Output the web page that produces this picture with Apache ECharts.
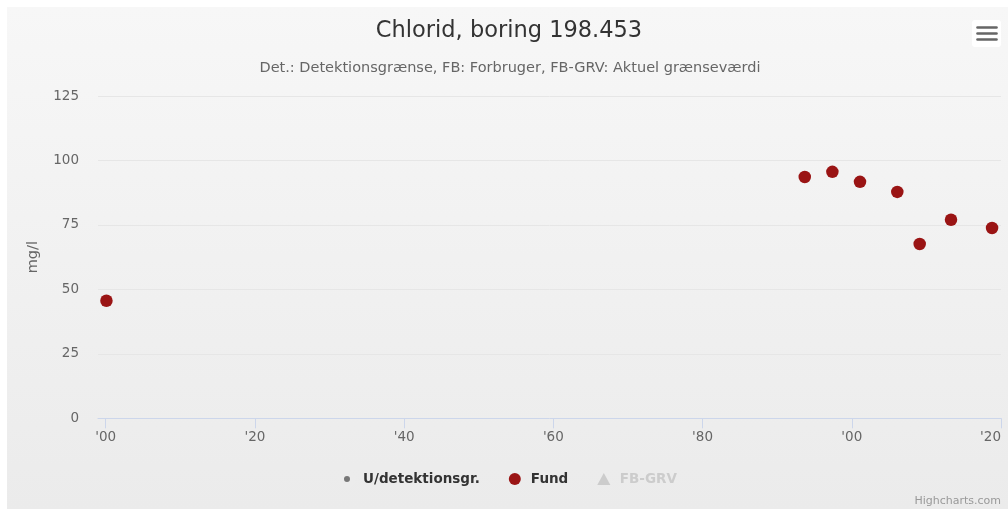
<!DOCTYPE html>
<html>
<head>
<meta charset="utf-8">
<script src="https://cdn.jsdelivr.net/npm/echarts@6/dist/echarts.min.js"></script>
<style>
  html, body { margin: 0; padding: 0; background: #fff; }
  #chart {
    width: 1008px;
    height: 509px;
    background: linear-gradient(#f7f7f7, #ebebeb) no-repeat 7px 7px / 1001px 502px, #fff;
  }
</style>
</head>
<body>
<div id="chart"></div>
<script>
const titleText = 'Chlorid, boring 198.453'
const subtitleText = 'Det.: Detektionsgrænse, FB: Forbruger, FB-GRV: Aktuel grænseværdi'
const yAxisName = 'mg/l'
const seriesNames = ['U/detektionsgr.', 'Fund', 'FB-GRV']
const xTicks = [1900, 1920, 1940, 1960, 1980, 2000, 2020]

// sampling dates as decimal years
const fundYears = [1900.1, 1993.7, 1997.4, 2001.1, 2006.1, 2009.1, 2013.3, 2018.8]
const fundValues = [45.6, 93.6, 95.6, 91.7, 87.8, 67.6, 77.0, 73.8]
// no points below detection limit, limit value series hidden
const detectionYears = []
const detectionValues = []
const limitYears = []
const limitValues = []

const font = 'DejaVu Sans'
const pairs = (xs, ys) => xs.map((x, i) => [x, ys[i]])

const chart = echarts.init(document.getElementById('chart'))

const option = {
  animation: false,
  title: [
    {
      text: titleText,
      left: 509,
      top: 20,
      padding: 0,
      textAlign: 'center',
      textStyle: { fontFamily: font, fontSize: 22.5, fontWeight: 'normal', color: '#333333' }
    },
    {
      text: subtitleText,
      left: 510,
      top: 61,
      padding: 0,
      textAlign: 'center',
      textStyle: { fontFamily: font, fontSize: 14.5, fontWeight: 'normal', color: '#666666' }
    }
  ],
  grid: {
    left: 98,
    right: 7,
    top: 96,
    bottom: 90.7,
    outerBoundsMode: 'none'
  },
  legend: {
    bottom: 16,
    left: 333,
    itemWidth: 22,
    itemHeight: 12,
    itemGap: 29,
    inactiveColor: '#cccccc',
    textStyle: { fontFamily: font, fontSize: 13.5, fontWeight: 'bold', color: '#333333' },
    selected: { 'FB-GRV': false },
    data: [
      {
        name: seriesNames[0],
        icon: 'circle',
        itemStyle: { color: '#777777', borderColor: '#ececec', borderWidth: 6 }
      },
      { name: seriesNames[1], icon: 'circle' },
      { name: seriesNames[2], icon: 'path://M6,0 L12,11 L0,11 Z' }
    ]
  },
  xAxis: {
    type: 'value',
    min: 1898.97,
    max: 2020,
    axisLine: { show: true, lineStyle: { color: '#ccd6eb', width: 1 } },
    axisTick: {
      show: true,
      length: 10,
      customValues: xTicks,
      lineStyle: { color: '#ccd6eb' }
    },
    axisLabel: {
      customValues: xTicks,
      alignMaxLabel: 'right',
      margin: 12,
      color: '#666666',
      fontFamily: font,
      fontSize: 13.5,
      formatter: (v) => "'" + String(v % 100).padStart(2, '0')
    },
    splitLine: { show: false }
  },
  yAxis: {
    type: 'value',
    min: 0,
    max: 125,
    interval: 25,
    name: yAxisName,
    nameLocation: 'middle',
    nameGap: 57,
    nameTextStyle: { fontFamily: font, fontSize: 14.5, color: '#666666' },
    axisLine: { show: false },
    axisTick: { show: false },
    axisLabel: { margin: 19, color: '#666666', fontFamily: font, fontSize: 13.5 },
    splitLine: { lineStyle: { color: '#e6e6e6', width: 1 } }
  },
  series: [
    {
      name: seriesNames[0],
      type: 'scatter',
      symbol: 'circle',
      symbolSize: 6,
      itemStyle: { color: '#777777', opacity: 1 },
      data: pairs(detectionYears, detectionValues)
    },
    {
      name: seriesNames[1],
      type: 'scatter',
      symbol: 'circle',
      symbolSize: 12.5,
      itemStyle: { color: '#9a1414', opacity: 1 },
      data: pairs(fundYears, fundValues)
    },
    {
      name: seriesNames[2],
      type: 'line',
      symbol: 'triangle',
      itemStyle: { color: '#aaaaaa' },
      data: pairs(limitYears, limitValues)
    }
  ],
  graphic: [
    {
      type: 'rect',
      shape: { x: 972, y: 20, width: 29, height: 27, r: 3 },
      style: { fill: '#ffffff' }
    },
    {
      type: 'line',
      shape: { x1: 977.5, y1: 27.5, x2: 996.5, y2: 27.5 },
      style: { stroke: '#666666', lineWidth: 2.6, lineCap: 'round' }
    },
    {
      type: 'line',
      shape: { x1: 977.5, y1: 33.5, x2: 996.5, y2: 33.5 },
      style: { stroke: '#666666', lineWidth: 2.6, lineCap: 'round' }
    },
    {
      type: 'line',
      shape: { x1: 977.5, y1: 39.5, x2: 996.5, y2: 39.5 },
      style: { stroke: '#666666', lineWidth: 2.6, lineCap: 'round' }
    },
    {
      type: 'text',
      right: 7,
      top: 496,
      style: { text: 'Highcharts.com', fill: '#999999', font: '11px ' + font }
    }
  ]
}

chart.setOption(option)
</script>
</body>
</html>
